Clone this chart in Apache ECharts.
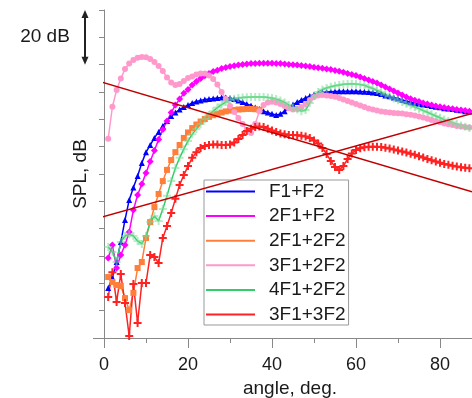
<!DOCTYPE html>
<html>
<head>
<meta charset="utf-8">
<script src="https://cdn.jsdelivr.net/npm/echarts@6/dist/echarts.min.js"></script>
<style>
  html, body { margin: 0; padding: 0; background: #fff; }
  #chart { width: 472px; height: 398px; }
</style>
</head>
<body>
<div id="chart"></div>
<script>
// angle, deg. (one point per degree)
var angles = [1,2,3,4,5,6,7,8,9,10,11,12,13,14,15,16,17,18,19,20,
  21,22,23,24,25,26,27,28,29,30,31,32,33,34,35,36,37,38,39,40,
  41,42,43,44,45,46,47,48,49,50,51,52,53,54,55,56,57,58,59,60,
  61,62,63,64,65,66,67,68,69,70,71,72,73,74,75,76,77,78,79,80,
  81,82,83,84,85,86,87];

// SPL, dB (arbitrary reference, 10 dB per tick)
var f1f2 = [18.3,22.0,27.8,35.1,43.2,50.5,55.1,59.3,64.0,68.0,
  70.6,73.2,75.4,77.6,79.4,81.2,82.5,83.6,84.5,85.2,
  86.0,86.5,86.9,87.3,87.4,87.6,87.8,88.0,88.0,87.8,
  87.4,86.9,86.3,85.6,85.1,84.3,83.8,83.0,82.5,82.0,
  81.6,82.0,83.0,84.3,85.4,86.3,87.1,87.8,88.5,89.1,
  89.4,89.8,90.0,90.1,90.2,90.3,90.3,90.3,90.3,90.3,
  90.2,90.1,90.0,89.8,89.6,89.3,88.7,88.4,88.0,87.6,
  87.1,86.7,86.3,86.0,85.6,85.4,85.2,84.9,84.6,84.4,
  84.1,84.0,83.8,83.5,83.3,83.0,82.9];

var f2f1f2 = [29.3,34.0,25.6,30.4,34.0,38.8,46.8,52.3,56.3,60.4,
  64.6,68.6,72.6,76.3,79.4,82.5,85.2,87.4,89.5,90.9,
  92.6,93.8,94.9,95.9,96.8,97.5,98.0,98.6,99.0,99.3,
  99.6,99.9,100.1,100.2,100.4,100.4,100.5,100.5,100.5,100.5,
  100.4,100.4,100.2,100.1,100.0,99.9,99.7,99.5,99.3,99.1,
  98.9,98.7,98.4,98.2,97.9,97.6,97.2,96.8,96.4,96.0,
  95.5,94.9,94.4,93.8,93.3,92.6,91.8,91.1,90.4,89.6,
  88.9,88.2,87.5,87.0,86.5,86.0,85.6,85.2,84.9,84.6,
  84.3,84.1,83.9,83.6,83.4,83.2,83.0];

var f2f12f2 = [22.3,20.5,19.4,19.0,14.6,10.2,16.5,25.6,27.8,36.6,
  42.4,47.9,52.7,57.4,61.5,65.1,68.0,70.6,73.2,75.2,
  76.8,78.1,79.2,80.1,80.9,81.5,82.0,82.5,82.9,83.2,
  83.4,83.6,83.7,83.8,83.8,83.7,83.5];

var f3f12f2 = [72.9,84.6,90.7,94.9,98.4,100.4,101.7,102.5,102.8,102.7,
  102.1,101.0,99.5,97.7,95.3,93.5,92.6,92.9,94.0,95.1,
  95.7,96.4,96.8,96.8,96.0,94.8,92.7,90.0,87.4,84.9,
  82.7,80.5,78.3,76.1,75.0,78.3,83.0,85.2,86.2,86.4,
  86.2,85.6,84.9,84.1,83.6,83.8,84.5,85.6,87.1,88.2,
  88.7,88.9,88.7,88.5,88.3,87.8,87.3,86.7,86.2,85.6,
  85.1,84.5,84.0,83.6,83.2,82.9,82.7,82.5,82.3,82.2,
  82.1,81.9,81.7,81.4,81.0,80.7,80.2,79.8,79.3,78.9,
  78.5,78.2,77.9,77.6,77.4,77.2,77.0];

var f4f12f2 = [33.3,31.5,27.8,35.1,37.3,38.0,37.3,35.5,34.4,37.3,
  42.4,44.6,42.8,47.2,52.0,57.4,62.2,65.9,69.1,72.1,
  74.5,76.5,78.3,80.1,81.6,83.0,84.3,85.4,86.3,87.1,
  87.5,87.8,88.0,88.1,88.2,88.2,88.2,88.2,88.0,87.8,
  87.4,86.9,86.2,85.2,84.3,83.6,83.0,83.4,86.0,88.4,
  90.0,90.9,91.5,91.9,92.3,92.6,92.8,92.9,93.0,92.9,
  92.7,92.5,91.8,91.3,90.6,89.9,89.1,88.4,87.6,87.0,
  86.3,85.7,85.1,84.5,83.9,83.2,82.6,81.9,81.2,80.6,
  79.9,79.4,78.8,78.3,77.7,77.3,76.8];

var f3f13f2 = [15.0,24.1,13.2,23.4,12.8,0.7,19.8,5.5,20.1,20.1,
  30.4,29.6,27.4,36.6,41.0,45.7,50.9,56.0,59.6,62.9,
  65.9,68.0,69.5,70.2,70.6,70.8,70.8,70.6,70.6,70.8,
  71.5,72.8,74.3,75.7,76.6,77.2,77.4,77.2,76.6,75.9,
  75.4,74.8,74.5,74.3,74.3,74.2,74.0,73.7,73.2,72.3,
  71.2,69.5,67.3,64.8,62.6,61.5,62.9,65.5,67.5,68.8,
  69.4,69.8,70.0,70.0,70.0,69.9,69.6,69.3,69.0,68.6,
  68.2,67.9,67.4,67.0,66.5,66.0,65.5,65.0,64.6,64.1,
  63.7,63.4,63.0,62.7,62.5,62.3,62.1];

// two straight guide lines (end points)
var guideX = [-24.76, 87.62];
var guideDown = [104.6, 53.5];
var guideUp = [33.8, 82.1];

var xTicks = [0, 20, 40, 60, 80];
var scaleBar = [100, 120];

var FONT = "'Liberation Sans', Arial, sans-serif";
var PLUS = 'path://M3,0H5V3H8V5H5V8H3V5H0V3H3Z';

function pts(vals) {
  return vals.map(function (v, i) { return [angles[i], v]; });
}

function curve(name, vals, color, symbol, size, markColor) {
  return {
    name: name,
    type: 'line',
    data: pts(vals),
    symbol: symbol,
    symbolSize: size,
    itemStyle: { color: markColor || color },
    lineStyle: { color: color, width: 1.5 },
    emphasis: { disabled: true }
  };
}

function guide(ys) {
  return {
    type: 'line',
    data: guideX.map(function (x, i) { return [x, ys[i]]; }),
    symbol: 'none',
    clip: false,
    lineStyle: { color: '#c00000', width: 1.5 },
    z: 5,
    silent: true
  };
}

var chart = echarts.init(document.getElementById('chart'));

var option = {
  animation: false,
  backgroundColor: '#fff',
  textStyle: { fontFamily: FONT },
  // axis runs to 100 deg; the right part lies beyond the visible area
  grid: { left: 104, width: 420, top: 10, height: 328, outerBoundsMode: 'none', containLabel: false },
  xAxis: {
    type: 'value',
    min: 0,
    max: 100,
    interval: 20,
    name: 'angle, deg.',
    nameLocation: 'middle',
    nameGap: 39,
    nameTextStyle: { fontSize: 19, color: '#1a1a1a', fontFamily: FONT, padding: [0, 48, 0, 0] },
    axisLine: { onZero: false, lineStyle: { color: '#888', width: 1 } },
    axisTick: { length: 10, lineStyle: { color: '#888' } },
    minorTick: { show: true, splitNumber: 2, length: 5, lineStyle: { color: '#888' } },
    axisLabel: {
      fontSize: 18, color: '#1a1a1a', fontFamily: FONT, margin: 18,
      formatter: function (v) { return xTicks.indexOf(v) >= 0 ? String(v) : ''; }
    },
    splitLine: { show: false }
  },
  yAxis: {
    type: 'value',
    min: 0,
    max: 120,
    interval: 10,
    name: 'SPL, dB',
    nameLocation: 'middle',
    nameGap: 14,
    nameTextStyle: { fontSize: 19, color: '#1a1a1a', fontFamily: FONT },
    axisLine: { show: true, lineStyle: { color: '#888', width: 1 } },
    axisTick: { show: true, length: 5, lineStyle: { color: '#888' } },
    axisLabel: { show: false },
    splitLine: { show: false }
  },
  legend: {
    orient: 'vertical',
    left: 204,
    top: 180,
    padding: [2, 3, 1, 2],
    borderColor: '#999',
    borderWidth: 1,
    icon: 'rect',
    itemWidth: 49,
    itemHeight: 2,
    itemGap: 5.6,
    selectedMode: false,
    textStyle: { fontSize: 19, color: '#1a1a1a', fontFamily: FONT, padding: [0, 0, 0, 9] },
    data: [
      'F1+F2', '2F1+F2', '2F1+2F2', '3F1+2F2',
      { name: '4F1+2F2', itemStyle: { color: '#33cc66' } },
      '3F1+3F2'
    ]
  },
  series: [
    curve('F1+F2', f1f2, '#0000ff', 'triangle', 6),
    curve('2F1+F2', f2f1f2, '#ff00ff', 'diamond', 7),
    curve('2F1+2F2', f2f12f2, '#ff7f3a', 'rect', 6),
    curve('3F1+2F2', f3f12f2, '#ff99cc', 'circle', 6),
    curve('4F1+2F2', f4f12f2, '#33cc66', PLUS, 8, 'rgba(120,220,150,0.55)'),
    curve('3F1+3F2', f3f13f2, '#ff2222', PLUS, 8),
    guide(guideDown),
    guide(guideUp)
  ]
};

chart.setOption(option);

// x axis stub to the left of the y axis, 20 dB scale arrow and its label
var yTop = chart.convertToPixel({ yAxisIndex: 0 }, scaleBar[1]);
var yBot = chart.convertToPixel({ yAxisIndex: 0 }, scaleBar[0]);
var yAxisX = chart.convertToPixel({ xAxisIndex: 0 }, 0);
var yZero = chart.convertToPixel({ yAxisIndex: 0 }, 0);
var ax = 85;

chart.setOption({
  graphic: [
    { type: 'line', shape: { x1: yAxisX - 11, y1: yZero + 0.5, x2: yAxisX, y2: yZero + 0.5 },
      style: { stroke: '#888', lineWidth: 1 }, silent: true },
    { type: 'line', shape: { x1: ax, y1: yTop + 5, x2: ax, y2: yBot - 5 },
      style: { stroke: '#222', lineWidth: 2 }, silent: true },
    { type: 'polygon', shape: { points: [[ax, yTop], [ax - 3.5, yTop + 8], [ax + 3.5, yTop + 8]] },
      style: { fill: '#222' }, silent: true },
    { type: 'polygon', shape: { points: [[ax, yBot], [ax - 3.5, yBot - 8], [ax + 3.5, yBot - 8]] },
      style: { fill: '#222' }, silent: true },
    { type: 'text', x: 45, y: (yTop + yBot) / 2 - 1,
      style: { text: '20 dB', font: '19px ' + FONT, fill: '#1a1a1a', align: 'center', verticalAlign: 'middle' },
      silent: true }
  ]
});
</script>
</body>
</html>
